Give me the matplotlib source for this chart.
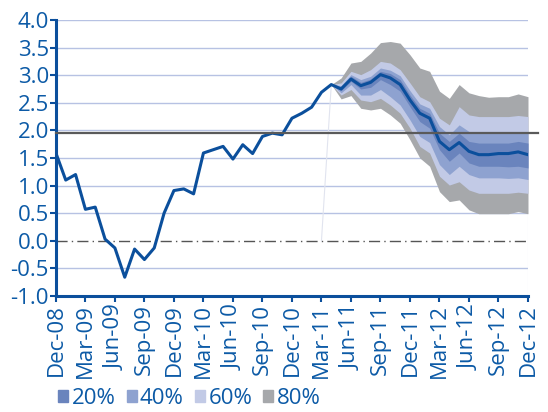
import matplotlib
matplotlib.use("Agg")
import matplotlib.pyplot as plt
import matplotlib.patches as patches
import numpy as np

# monthly index, Dec-08 = 0 ... Dec-12 = 48
tick_labels = ["Dec-08", "Mar-09", "Jun-09", "Sep-09", "Dec-09", "Mar-10", "Jun-10",
               "Sep-10", "Dec-10", "Mar-11", "Jun-11", "Sep-11", "Dec-11", "Mar-12",
               "Jun-12", "Sep-12", "Dec-12"]

# central path (history Dec-08..Apr-11, then projection to Dec-12)
central = [1.59, 1.10, 1.20, 0.57, 0.61, 0.03, -0.13, -0.66, -0.15, -0.34, -0.13, 0.50,
           0.91, 0.94, 0.85, 1.59, 1.65, 1.71, 1.48, 1.74, 1.58, 1.89, 1.95, 1.92,
           2.22, 2.31, 2.42, 2.69, 2.83,
           2.75, 2.93, 2.81, 2.87, 3.01, 2.95, 2.83, 2.55, 2.31, 2.22, 1.80, 1.65,
           1.78, 1.62, 1.56, 1.56, 1.58, 1.58, 1.61, 1.56]

# fan bands, Apr-11 .. Dec-12
fan_start = 28
up80 = [2.83, 2.95, 3.22, 3.25, 3.40, 3.59, 3.61, 3.58, 3.37, 3.13, 3.07, 2.71, 2.58,
        2.83, 2.68, 2.63, 2.60, 2.61, 2.61, 2.66, 2.61]
lo80 = [2.83, 2.57, 2.63, 2.40, 2.37, 2.40, 2.28, 2.13, 1.83, 1.50, 1.35, 0.89, 0.71,
        0.74, 0.56, 0.49, 0.49, 0.49, 0.49, 0.53, 0.49]
up60 = [2.83, 2.86, 3.07, 3.01, 3.10, 3.25, 3.22, 3.10, 2.86, 2.61, 2.52, 2.22, 2.10,
        2.43, 2.28, 2.25, 2.25, 2.25, 2.25, 2.27, 2.25]
lo60 = [2.83, 2.64, 2.74, 2.55, 2.52, 2.58, 2.46, 2.31, 2.04, 1.71, 1.59, 1.17, 1.01,
        1.07, 0.92, 0.86, 0.86, 0.86, 0.86, 0.88, 0.86]
up40 = [2.83, 2.81, 3.01, 2.92, 2.98, 3.13, 3.09, 2.99, 2.72, 2.48, 2.40, 2.07, 1.92,
        2.10, 1.98, 1.95, 1.95, 1.95, 1.95, 1.98, 1.95]
lo40 = [2.83, 2.68, 2.83, 2.64, 2.64, 2.74, 2.61, 2.46, 2.19, 1.89, 1.78, 1.38, 1.20,
        1.35, 1.20, 1.14, 1.14, 1.14, 1.13, 1.14, 1.11]
up20 = [2.83, 2.78, 2.98, 2.87, 2.93, 3.07, 3.03, 2.92, 2.64, 2.40, 2.31, 1.95, 1.80,
        1.95, 1.80, 1.77, 1.77, 1.77, 1.77, 1.80, 1.77]
lo20 = [2.83, 2.72, 2.89, 2.75, 2.78, 2.92, 2.83, 2.71, 2.43, 2.16, 2.04, 1.65, 1.44,
        1.59, 1.41, 1.35, 1.35, 1.35, 1.34, 1.35, 1.32]

target = 1.95

blue = "#0b4f9c"
text_blue = "#0c5aa6"
band_colors = {"20%": "#6a84bd", "40%": "#8ea2d0", "60%": "#c2cae6", "80%": "#a6a8ab"}

plt.rcParams['font.family'] = ['Open Sans', 'DejaVu Sans']

fig = plt.figure(figsize=(5.48, 4.12), dpi=100)
ax = fig.add_axes([0.102, 0.2816, 0.8615, 0.6699])

x = np.arange(len(central))
xf = np.arange(fan_start, fan_start + len(up80))

# grid
for g in [-0.5, 0.5, 1.0, 1.5, 2.0, 2.5, 3.0, 3.5, 4.0]:
    ax.axhline(g, color="#b7c2e3", lw=1.0, zorder=0)
ax.axhline(0, color="#555555", lw=1.0, ls=(0, (8, 3, 1, 3)), zorder=1)

# fan
ax.fill_between(xf, lo80, up80, color=band_colors["80%"], lw=0, zorder=2)
ax.fill_between(xf, lo60, up60, color=band_colors["60%"], lw=0, zorder=3)
ax.fill_between(xf, lo40, up40, color=band_colors["40%"], lw=0, zorder=4)
ax.fill_between(xf, lo20, up20, color=band_colors["20%"], lw=0, zorder=5)

# faint guide lines
ax.plot([fan_start - 1, fan_start], [0, central[fan_start]], color="#e1e4ef", lw=0.8, zorder=1)
ax.plot([48, 48], [-1, lo80[-1]], color="#e1e4ef", lw=0.8, zorder=1)

ax.plot(x, central, color=blue, lw=2.2, zorder=6)

# target line (extends slightly past the axes)
ax.plot([0, 49], [target, target], color="#5a5a5a", lw=1.6, zorder=7, clip_on=False)

ax.set_xlim(0, 48)
ax.set_ylim(-1.0, 4.0)
yt = np.arange(-1.0, 4.01, 0.5)
ax.set_yticks(yt)
ax.set_yticklabels(["%.1f" % v for v in yt])
ax.set_xticks(np.arange(0, 49, 3))
ax.set_xticklabels(tick_labels, rotation=90)

for s in ["top", "right"]:
    ax.spines[s].set_visible(False)
for s in ["left", "bottom"]:
    ax.spines[s].set_color(blue)
    ax.spines[s].set_linewidth(2.2)

ax.tick_params(axis="both", colors=blue, labelcolor=text_blue, labelsize=16,
               length=4, width=1.5, pad=1)
ax.tick_params(axis="y", direction="out")
ax.tick_params(axis="x", direction="out", pad=2)

handles = [patches.Patch(color=band_colors[k], label=k) for k in ["20%", "40%", "60%", "80%"]]
leg = fig.legend(handles=handles, loc="lower left", bbox_to_anchor=(0.078, -0.03), ncol=4,
                 frameon=False, fontsize=16, handlelength=0.45, handleheight=0.45,
                 handletextpad=0.15, columnspacing=0.5, borderpad=0.2)
for t in leg.get_texts():
    t.set_color(text_blue)

fig.savefig("out.png", dpi=100)
